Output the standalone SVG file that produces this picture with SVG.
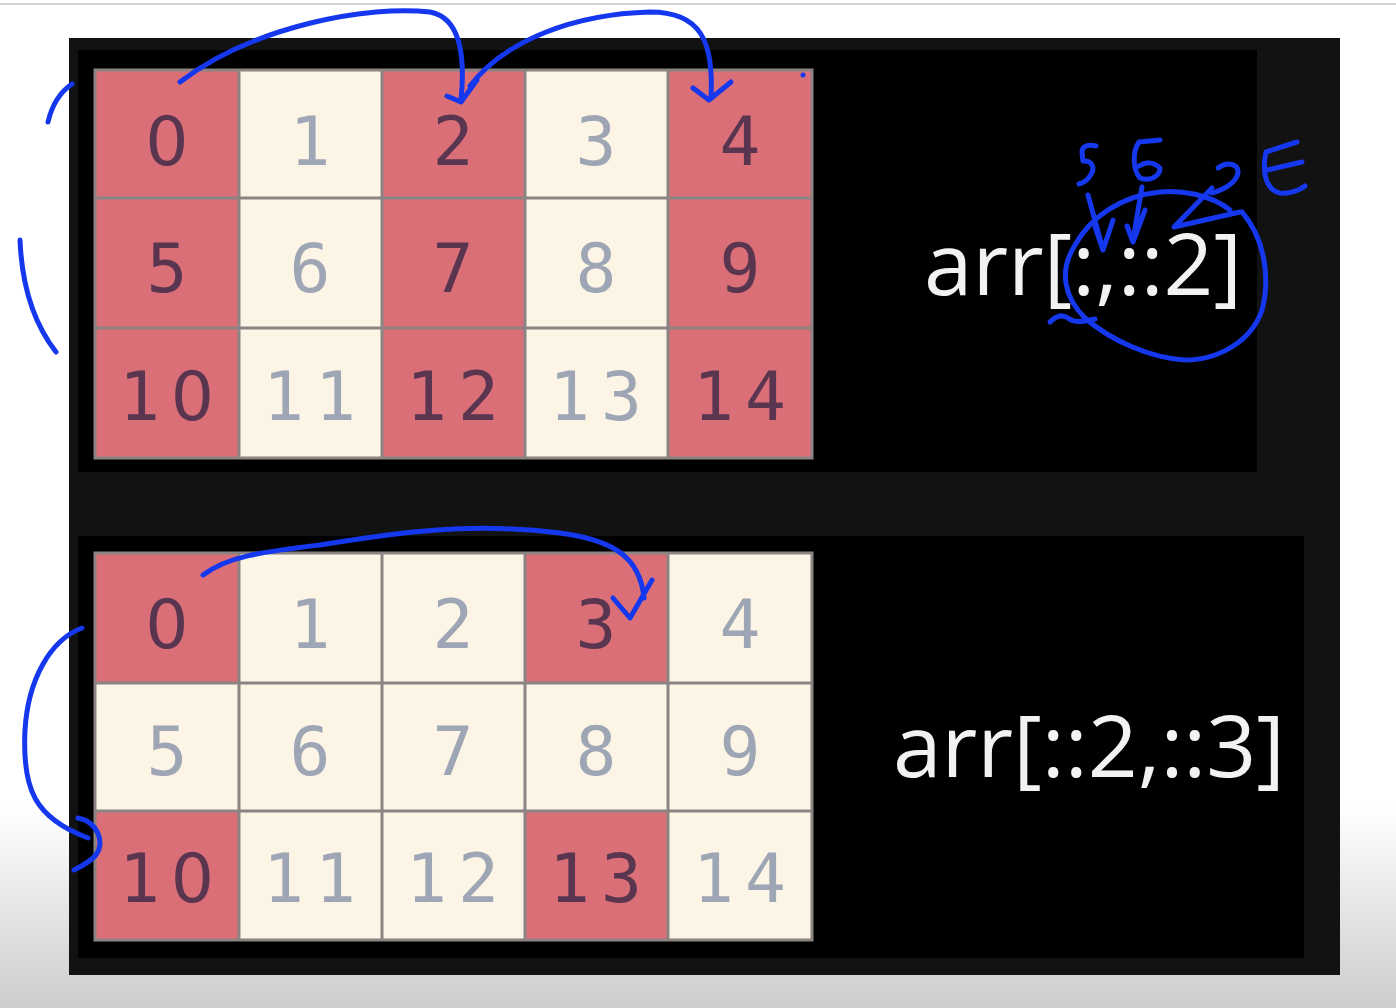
<svg xmlns="http://www.w3.org/2000/svg" width="1396" height="1008" viewBox="0 0 1396 1008">
<defs>
<linearGradient id="bg" x1="0" y1="0" x2="0" y2="1008" gradientUnits="userSpaceOnUse">
<stop offset="0" stop-color="#ffffff"/>
<stop offset="0.8" stop-color="#ffffff"/>
<stop offset="1" stop-color="#cdcdcd"/>
</linearGradient>
<style>
.red{fill:#da6f78}
.cream{fill:#fcf5e6}
.gl{stroke:#8c8482;stroke-width:3;fill:none}
.dr{font-family:"DejaVu Sans Mono",monospace;font-size:68px;fill:#5a3550;text-anchor:middle}
.dc{font-family:"DejaVu Sans Mono",monospace;font-size:68px;fill:#9ea6b6;text-anchor:middle}
.z{font-family:"DejaVu Sans",sans-serif}
.two{letter-spacing:11px}
.expr{font-family:"Open Sans","Liberation Sans",sans-serif;font-size:86px;fill:#f2f2f2}
.ink{stroke:#1538ee;stroke-width:5;fill:none;stroke-linecap:round;stroke-linejoin:round}
</style>
</defs>
<rect width="1396" height="1008" fill="url(#bg)"/>
<line x1="0" y1="4" x2="1396" y2="4" stroke="#c6c6c6" stroke-width="1.5"/>
<rect x="69" y="38" width="1271" height="937" fill="#121212"/>
<rect x="78" y="50" width="1179" height="422" fill="#000"/>
<rect x="78" y="536" width="1226" height="422" fill="#000"/>

<g id="grid-top">
<rect x="95" y="70" width="717" height="388" class="cream"/>
<rect x="95" y="70" width="144" height="388" class="red"/>
<rect x="382" y="70" width="143" height="388" class="red"/>
<rect x="668" y="70" width="144" height="388" class="red"/>
<path class="gl" d="M95,70H812V458H95Z M239,70V458 M382,70V458 M525,70V458 M668,70V458 M95,198H812 M95,328H812"/>
<text class="dr z" x="167" y="165">0</text>
<text class="dc" x="310" y="165">1</text>
<text class="dr" x="453" y="165">2</text>
<text class="dc" x="596" y="165">3</text>
<text class="dr" x="740" y="165">4</text>
<text class="dr" x="167" y="292">5</text>
<text class="dc" x="310" y="292">6</text>
<text class="dr" x="453" y="292">7</text>
<text class="dc" x="596" y="292">8</text>
<text class="dr" x="740" y="292">9</text>
<text class="dr two" x="172" y="420">1<tspan class="z">0</tspan></text>
<text class="dc two" x="315" y="420">11</text>
<text class="dr two" x="458" y="420">12</text>
<text class="dc two" x="601" y="420">13</text>
<text class="dr two" x="745" y="420">14</text>
</g>

<g id="grid-bottom">
<rect x="95" y="553" width="717" height="387" class="cream"/>
<rect x="95" y="553" width="144" height="130" class="red"/>
<rect x="525" y="553" width="143" height="130" class="red"/>
<rect x="95" y="811" width="144" height="129" class="red"/>
<rect x="525" y="811" width="143" height="129" class="red"/>
<path class="gl" d="M95,553H812V940H95Z M239,553V940 M382,553V940 M525,553V940 M668,553V940 M95,683H812 M95,811H812"/>
<text class="dr z" x="167" y="648">0</text>
<text class="dc" x="310" y="648">1</text>
<text class="dc" x="453" y="648">2</text>
<text class="dr" x="596" y="648">3</text>
<text class="dc" x="740" y="648">4</text>
<text class="dc" x="167" y="775">5</text>
<text class="dc" x="310" y="775">6</text>
<text class="dc" x="453" y="775">7</text>
<text class="dc" x="596" y="775">8</text>
<text class="dc" x="740" y="775">9</text>
<text class="dr two" x="172" y="902">1<tspan class="z">0</tspan></text>
<text class="dc two" x="315" y="902">11</text>
<text class="dc two" x="458" y="902">12</text>
<text class="dr two" x="601" y="902">13</text>
<text class="dc two" x="745" y="902">14</text>
</g>

<g id="expr-top"><text class="expr" x="924" y="295" textLength="318" lengthAdjust="spacingAndGlyphs">arr[:,::2]</text></g>
<g id="expr-bottom"><text class="expr" x="893" y="777" textLength="392" lengthAdjust="spacingAndGlyphs">arr[::2,::3]</text></g>

<g id="connectors">
<path class="ink" d="M180,82 C255,25 370,5 430,12 C462,18 465,60 461,100"/>
<path class="ink" d="M447,96 L461,102 L477,80"/>
<path class="ink" d="M470,86 C505,40 575,14 650,12 C700,12 714,40 711,98"/>
<path class="ink" d="M693,88 L709,100 L731,82"/>
<circle cx="803" cy="75" r="2.5" fill="#1538ee"/>
<path class="ink" d="M48,122 C52,105 60,92 72,84"/>
<path class="ink" d="M20,240 C22,290 35,325 56,352"/>
<path class="ink" d="M1096,146 C1088,144 1082,146 1082,152 L1083,161 C1092,160 1096,168 1090,176 C1087,181 1083,183 1079,184"/>
<path class="ink" d="M1160,140 L1139,142 C1132,152 1133,170 1140,178 C1150,182 1160,176 1160,168 C1153,161 1145,162 1139,166"/>
<path class="ink" d="M1088,195 L1103,250 M1095,227 L1103,250 L1113,220"/>
<path class="ink" d="M1142,187 L1133,240 M1127,226 L1133,242 L1145,210"/>
<path class="ink" d="M1218,168 C1228,160 1242,165 1237,176 C1233,185 1222,190 1212,193"/>
<path class="ink" d="M1212,188 L1174,227 L1240,212"/>
<path class="ink" d="M1297,142 L1266,152 C1262,170 1265,190 1280,193 C1290,194 1300,190 1305,186 M1267,170 L1302,162"/>
<path class="ink" d="M1230,210 C1210,194 1180,190 1160,192 C1120,196 1090,218 1075,245 C1058,272 1065,298 1085,318 C1110,340 1150,358 1185,360 C1220,360 1252,340 1262,310 C1270,280 1266,240 1242,212"/>
<path class="ink" d="M1050,322 C1056,316 1062,314 1068,318 C1074,323 1082,322 1095,319"/>
<path class="ink" d="M203,575 C228,556 262,552 320,545 C400,532 470,522 560,533 C612,540 640,556 644,598"/>
<path class="ink" d="M613,598 L630,618 L652,580"/>
<path class="ink" d="M82,628 C50,640 28,680 25,730 C22,790 35,818 88,838"/>
<path class="ink" d="M78,818 C98,822 105,842 96,855 C90,862 82,866 74,870"/>
</g>
</svg>
